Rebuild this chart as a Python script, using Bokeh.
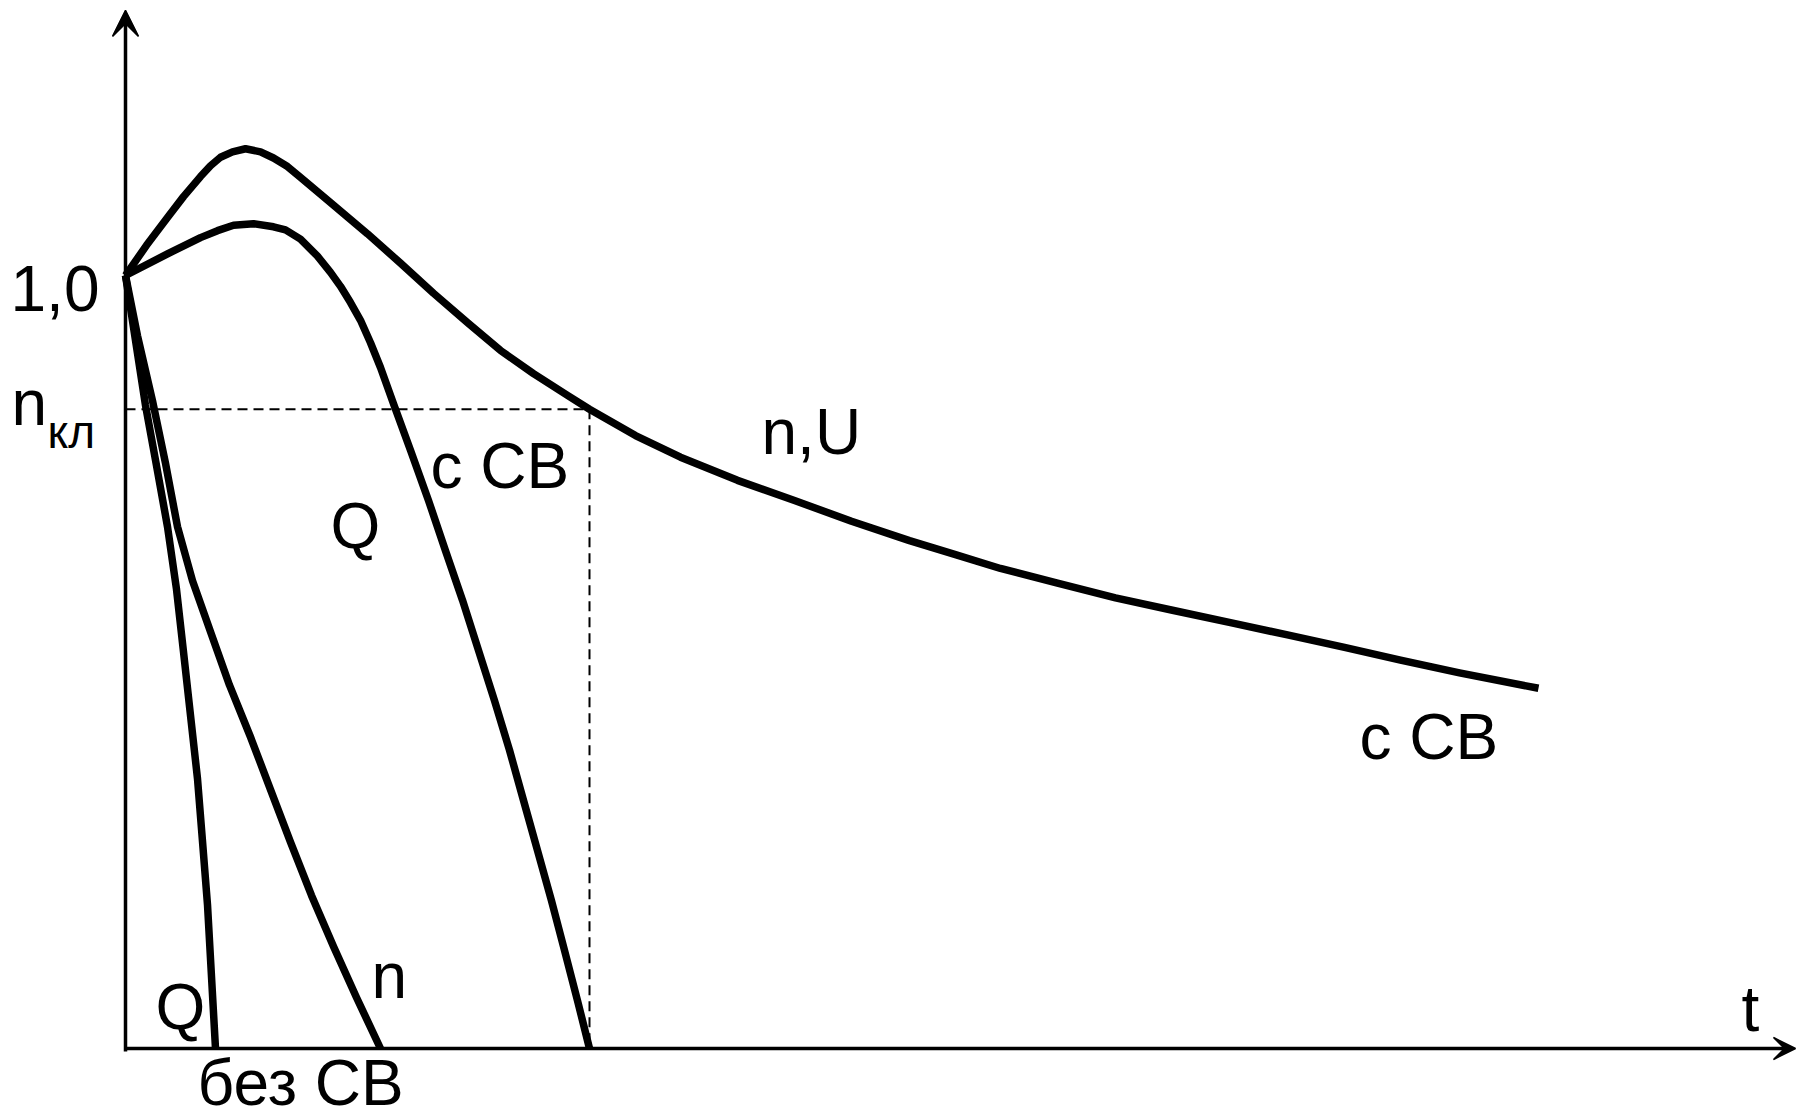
from bokeh.plotting import figure
from bokeh.models import Range1d, Arrow, VeeHead
from bokeh.core.properties import value
from bokeh.embed import file_html
from bokeh.resources import INLINE

# ---- data (relative units: t along x, value relative to nominal along y) ----
# n,U  with СВ (upper curve)
nU_t = [0, 0.21, 0.42, 0.58, 0.75, 0.85, 0.95, 1.07, 1.20, 1.35, 1.48, 1.62, 1.75,
        2.08, 2.42, 2.75, 3.08, 3.42, 3.75, 4.08, 4.42, 4.64, 5.10, 5.55, 6.12, 6.69,
        7.26, 7.84, 8.30, 8.75, 9.32, 9.90, 10.47, 11.05, 11.62, 12.19, 12.75, 13.34, 14.13]
nU_v = [1.000, 1.039, 1.075, 1.102, 1.128, 1.142, 1.153, 1.160, 1.164, 1.160, 1.152,
        1.141, 1.127, 1.091, 1.054, 1.016, 0.977, 0.939, 0.903, 0.873, 0.845, 0.827,
        0.793, 0.765, 0.735, 0.709, 0.682, 0.657, 0.639, 0.621, 0.602, 0.583, 0.567,
        0.551, 0.535, 0.519, 0.5025, 0.486, 0.466]

# Q with СВ
Qs_t = [0, 0.42, 0.75, 0.92, 1.08, 1.28, 1.48, 1.60, 1.75, 1.92, 2.05, 2.15, 2.25,
        2.35, 2.45, 2.55, 2.68, 2.85, 3.03, 3.20, 3.37, 3.53, 3.69, 3.84, 3.98, 4.12,
        4.26, 4.39, 4.52, 4.64]
Qs_v = [1.000, 1.028, 1.049, 1.058, 1.065, 1.067, 1.063, 1.059, 1.047, 1.025, 1.004,
        0.986, 0.965, 0.942, 0.913, 0.881, 0.834, 0.774, 0.709, 0.644, 0.580, 0.515,
        0.450, 0.386, 0.321, 0.256, 0.191, 0.127, 0.062, 0.0]

# Q without СВ
Q0_t = [0, 0.10, 0.20, 0.31, 0.42, 0.51, 0.58, 0.65, 0.72, 0.77, 0.82, 0.86, 0.90]
Q0_v = [1.0, 0.916, 0.832, 0.754, 0.675, 0.594, 0.513, 0.431, 0.349, 0.268, 0.186,
        0.093, 0.0]

# n without СВ
n0_t = [0, 0.12, 0.27, 0.40, 0.52, 0.67, 0.85, 1.04, 1.25, 1.45, 1.65, 1.86, 2.08,
        2.31, 2.55]
n0_v = [1.0, 0.922, 0.838, 0.757, 0.675, 0.605, 0.539, 0.470, 0.403, 0.335, 0.267,
        0.198, 0.132, 0.066, 0.0]

# critical speed level and time where n,U reaches it
n_kl = 0.827
t_kl = 4.64

# axis extents
t_max = 16.70
v_max = 1.343

# labels: text, t, v
labels = ["1,0", "n", "n,U", "с СВ", "Q", "Q", "n", "без СВ", "с СВ", "t"]
lab_t = [-1.15, -1.14, 6.36, 3.05, 2.05, 0.30, 2.46, 0.72, 12.34, 16.16]
lab_v = [0.983, 0.835, 0.797, 0.754, 0.6765, 0.0543, 0.0944, -0.0440, 0.4036, 0.0517]
sub_text = "кл"
sub_t = -0.78
sub_v = 0.7975

FONT = "Liberation Sans"

p = figure(width=1796, height=1117, output_backend="svg", toolbar_location=None,
           x_range=Range1d(-1.25, 16.71), y_range=Range1d(-0.08926, 1.35576),
           min_border=0, x_axis_type=None, y_axis_type=None)
p.grid.visible = False
p.outline_line_color = None
p.background_fill_color = "white"
p.border_fill_color = "white"

# axes as arrows
p.add_layout(Arrow(end=VeeHead(size=26, fill_color="black", fill_alpha=1.0,
                               line_color="black", line_width=1.5),
                   x_start=0, y_start=-0.004, x_end=0, y_end=v_max,
                   line_width=3.5, line_color="black"))
p.add_layout(Arrow(end=VeeHead(size=22, fill_color="black", fill_alpha=1.0,
                               line_color="black", line_width=1.5),
                   x_start=0, y_start=0, x_end=t_max, y_end=0,
                   line_width=3.5, line_color="black"))

# dashed helper lines
p.line([0, t_kl], [n_kl, n_kl], line_color="black", line_width=2, line_dash="10 6")
p.line([t_kl, t_kl], [n_kl, 0], line_color="black", line_width=2, line_dash="10 6")

# curves
for xs, ys in [(nU_t, nU_v), (Qs_t, Qs_v), (Q0_t, Q0_v), (n0_t, n0_v)]:
    p.line(xs, ys, line_color="black", line_width=7.5, line_join="round")

p.text(x=lab_t, y=lab_v, text=labels, text_font=value(FONT), text_font_size="64px",
       text_color="black", text_align="left", text_baseline="alphabetic")
p.text(x=[sub_t], y=[sub_v], text=[sub_text], text_font=value(FONT), text_font_size="46px",
       text_color="black", text_align="left", text_baseline="alphabetic")

open("out.html", "w").write(file_html(p, INLINE))
